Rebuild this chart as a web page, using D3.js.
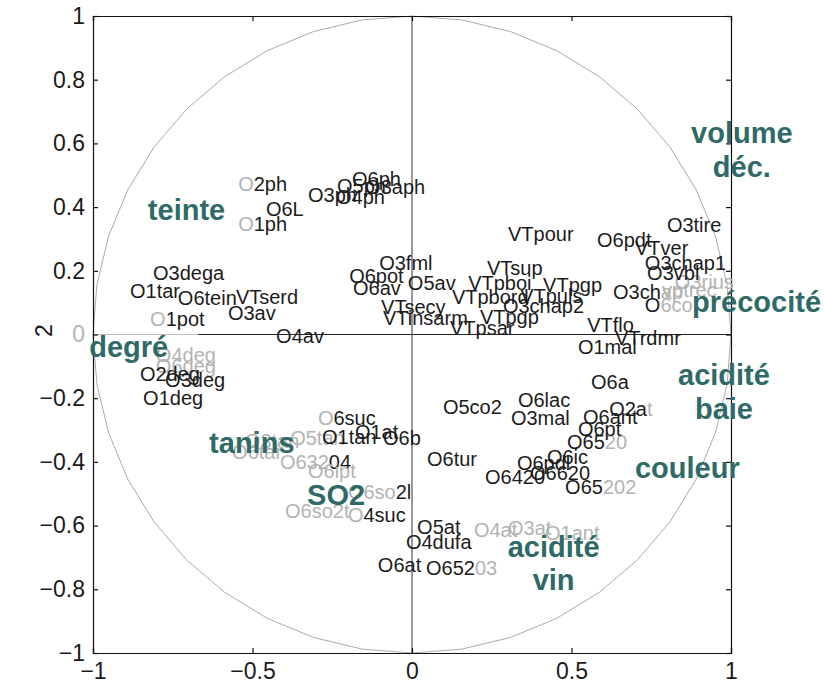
<!DOCTYPE html>
<html>
<head>
<meta charset="utf-8">
<script src="https://cdn.jsdelivr.net/npm/d3@7/dist/d3.min.js"></script>
<style>
  html, body { margin: 0; padding: 0; background: #fff; }
  svg { display: block; font-family: "Liberation Sans", Arial, Helvetica, sans-serif; }
</style>
</head>
<body>
<svg id="chart" width="824" height="684"></svg>
<script>
// Variable labels on the correlation circle (component 1 vs component 2)
const varNames = [
  "O2ph","O6L","O1ph","O6ph","O3ph","O4ph","O5ph","O3aph",
  "O3dega","O1tar","O6tein","VTserd","O1pot","O3av","O4av",
  "O4deg","O6deg","O2deg","O3deg","O1deg",
  "O3fml","O6pot","O6av","O5av","VTsecy","VTinsarm",
  "VTpour","VTsup","VTpboi","VTpgp","VTpbord","VTpuls","O3chap2","VTpgp","VTpsar",
  "O6pdt","VTver","O3tire","O3chap1","O3vbl","O3rius","vptrec","O3chap","O6co",
  "VTflo","VTrdmr","O1mal",
  "O6a","O6lac","O5co2","O3mal","O2at","O6ant","O6pt","O6520","O6ic","O6tur",
  "O6pdl","O6420","O6620","O65202",
  "O5at","O4dufa","O6at","O65203","O4at","O3at","O1ant",
  "O6suc","O1at","O6b","O1tan","O5tan","O6tar","O3tan","O63204","O6ipt",
  "O6so2l","O6so2t","O4suc"
];
const varX = [
  -0.545,-0.458,-0.545,-0.188,-0.326,-0.238,-0.235,-0.147,
  -0.812,-0.884,-0.734,-0.552,-0.821,-0.577,-0.426,
  -0.803,-0.803,-0.853,-0.774,-0.843,
  -0.103,-0.197,-0.185,-0.013,-0.097,-0.091,
  0.301,0.235,0.176,0.411,0.125,0.339,0.285,0.213,0.119,
  0.580,0.699,0.799,0.730,0.737,0.824,0.784,0.630,0.730,
  0.549,0.636,0.520,
  0.561,0.332,0.097,0.310,0.618,0.536,0.520,0.486,0.423,0.047,
  0.329,0.229,0.370,0.480,
  0.016,-0.019,-0.107,0.044,0.194,0.301,0.417,
  -0.295,-0.179,-0.091,-0.282,-0.382,-0.564,-0.524,-0.414,-0.326,
  -0.201,-0.398,-0.201
];
const varY = [
  0.473,0.394,0.347,0.488,0.438,0.432,0.466,0.463,
  0.193,0.137,0.115,0.118,0.049,0.068,-0.005,
  -0.064,-0.099,-0.124,-0.143,-0.199,
  0.224,0.184,0.146,0.162,0.086,0.052,
  0.316,0.209,0.162,0.155,0.118,0.121,0.089,0.055,0.020,
  0.297,0.272,0.344,0.224,0.193,0.165,0.140,0.133,0.093,
  0.030,-0.011,-0.039,
  -0.149,-0.206,-0.228,-0.262,-0.234,-0.259,-0.297,-0.338,-0.385,-0.391,
  -0.403,-0.447,-0.435,-0.479,
  -0.604,-0.651,-0.724,-0.733,-0.614,-0.608,-0.623,
  -0.262,-0.306,-0.325,-0.322,-0.325,-0.369,-0.334,-0.400,-0.429,
  -0.495,-0.554,-0.567
];
// character span [from, to) printed in grey (supplementary part), null = all black
const varGrey = [
  [0,1],null,[0,1],null,null,null,null,null,
  null,null,null,null,[0,1],null,null,
  [0,5],[0,5],null,null,null,
  null,null,null,null,null,null,
  null,null,null,null,null,null,null,null,null,
  null,null,null,null,null,[0,6],[0,6],[4,6],[1,4],
  null,null,null,
  null,null,null,null,[3,4],null,null,[3,5],null,null,
  null,null,null,[3,6],
  null,null,null,[4,6],[0,4],[0,4],[0,5],
  [0,1],null,null,null,[0,5],[0,5],[0,5],[0,4],[0,5],
  [0,4],[0,6],[0,1]
];

// Group headings
const groupNames = ["volume","déc.","teinte","degré","tanins","SO2","précocité","acidité","baie","couleur","acidité","vin"];
const groupX = [1.034,1.034,-0.828,-1.012,-0.636,-0.329,0.878,0.978,0.978,0.699,0.444,0.444];
const groupY = [0.633,0.526,0.391,-0.039,-0.341,-0.504,0.102,-0.128,-0.234,-0.419,-0.667,-0.771];
const groupAnchor = ["middle","middle","start","start","start","start","start","middle","middle","start","middle","middle"];

const yTicks = [-1,-0.8,-0.6,-0.4,-0.2,0,0.2,0.4,0.6,0.8,1];
const xTicks = [-1,-0.5,0,0.5,1];
const yAxisTitle = "2";

const svg = d3.select("#chart");
const x = d3.scaleLinear().domain([-1, 1]).range([93, 731]);
const y = d3.scaleLinear().domain([-1, 1]).range([653, 16]);

// unit circle, 40-segment polygon
const circlePts = d3.range(0, 41).map(i => {
  const a = i * 2 * Math.PI / 40;
  return [Math.cos(a), Math.sin(a)];
});
svg.append("path")
  .attr("d", d3.line().x(d => x(d[0])).y(d => y(d[1]))(circlePts))
  .attr("fill", "none").attr("stroke", "#ababab").attr("stroke-width", 1);

// reference lines through the origin
svg.append("line").attr("x1", x(-1)).attr("x2", x(-0.67)).attr("y1", y(0)).attr("y2", y(0))
  .attr("stroke", "#bdbdbd").attr("stroke-width", 1.2);
svg.append("line").attr("x1", x(-0.67)).attr("x2", x(1)).attr("y1", y(0)).attr("y2", y(0))
  .attr("stroke", "#222").attr("stroke-width", 1.2);
svg.append("line").attr("x1", x(0)).attr("x2", x(0)).attr("y1", y(1)).attr("y2", y(-1))
  .attr("stroke", "#555").attr("stroke-width", 1.2);

// axes (ticks pointing inward, mirrored on the opposite sides)
const tickLen = 5;
const fmt = d => d3.format("")(+d.toFixed(1));
const axLeft = svg.append("g").attr("transform", `translate(${x(-1)},0)`)
  .call(d3.axisLeft(y).tickValues(yTicks).tickSize(-tickLen).tickPadding(8).tickFormat(fmt));
const axBottom = svg.append("g").attr("transform", `translate(0,${y(-1)})`)
  .call(d3.axisBottom(x).tickValues(xTicks).tickSize(-tickLen).tickPadding(10).tickFormat(fmt));
const axRight = svg.append("g").attr("transform", `translate(${x(1)},0)`)
  .call(d3.axisRight(y).tickValues(yTicks).tickSize(-tickLen).tickFormat(""));
const axTop = svg.append("g").attr("transform", `translate(0,${y(1)})`)
  .call(d3.axisTop(x).tickValues(xTicks).tickSize(-tickLen).tickFormat(""));

[axLeft, axBottom, axRight, axTop].forEach(g => {
  g.select(".domain").attr("stroke", "#111").attr("stroke-width", 1.2);
  g.selectAll(".tick line").attr("stroke", "#111").attr("stroke-width", 1.2);
  g.selectAll(".tick text").attr("fill", "#1a1a1a")
    .style("font-family", "'Liberation Sans', Arial, sans-serif").style("font-size", "23px");
});
axLeft.selectAll(".tick text").filter(d => d === 0).attr("fill", "#b5b5b5");
axBottom.selectAll(".tick text").attr("dy", "0.71em");

svg.append("text")
  .attr("transform", `translate(44,${y(0) - 4}) rotate(-90)`)
  .attr("text-anchor", "middle").attr("dominant-baseline", "central")
  .style("font-size", "23px").attr("fill", "#1a1a1a").text(yAxisTitle);

// variable labels
const labels = svg.append("g").style("font-size", "20px");
const idx = d3.range(varNames.length);
// grey labels first so black ones sit on top
idx.sort((a, b) => (varGrey[b] ? 1 : 0) - (varGrey[a] ? 1 : 0));
idx.forEach(i => {
  const name = varNames[i], g = varGrey[i];
  const t = labels.append("text")
    .attr("x", x(varX[i])).attr("y", y(varY[i]))
    .attr("dominant-baseline", "central");
  const parts = g ? [[name.slice(0, g[0]), "#1c1c1c"], [name.slice(g[0], g[1]), "#b3b3b3"], [name.slice(g[1]), "#1c1c1c"]]
                  : [[name, "#1c1c1c"]];
  parts.filter(p => p[0].length).forEach(p => t.append("tspan").attr("fill", p[1]).text(p[0]));
});

// group headings
svg.append("g").selectAll("text").data(groupNames).join("text")
  .attr("x", (d, i) => x(groupX[i])).attr("y", (d, i) => y(groupY[i]))
  .attr("text-anchor", (d, i) => groupAnchor[i])
  .attr("dominant-baseline", "central")
  .style("font-size", "29px").style("font-weight", "bold")
  .attr("fill", "#2f6a66")
  .text(d => d);
</script>
</body>
</html>
